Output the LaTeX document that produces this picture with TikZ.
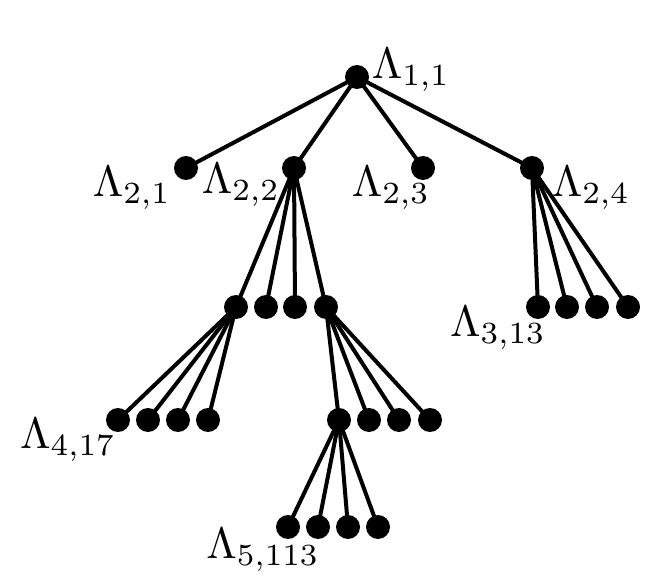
\documentclass[tikz,border=0pt]{standalone}
\newcommand{\biglab}[1]{\scalebox{4.4}{$#1$}}
\begin{document}
\begin{tikzpicture}[x=1pt,y=-1pt,
  dot/.style={circle,fill=black,inner sep=0pt,minimum size=24pt},
  lab/.style={inner sep=0pt},
  edge/.style={line width=4pt}]
\useasboundingbox (0,0) rectangle (654,588);
\node[dot] (r) at (357,77) {};
\foreach \n/\x in {a/186,b/294,c/423,d/532} \node[dot] (\n) at (\x,168) {};
\foreach \i/\x in {1/236,2/266,3/295,4/326} \node[dot] (b\i) at (\x,307) {};
\foreach \i/\x in {1/538,2/567,3/597,4/628} \node[dot] (d\i) at (\x,307) {};
\foreach \i/\x in {1/118,2/148,3/178,4/208} \node[dot] (e\i) at (\x,420) {};
\foreach \i/\x in {1/339,2/369,3/399,4/430} \node[dot] (f\i) at (\x,420) {};
\foreach \i/\x in {1/288,2/318,3/348,4/378} \node[dot] (g\i) at (\x,527) {};
\foreach \n in {a,b,c,d} \draw[edge] (r.center) -- (\n.center);
\foreach \i in {1,2,3,4} {
  \draw[edge] (b.center) -- (b\i.center);
  \draw[edge] (d.center) -- (d\i.center);
  \draw[edge] (b1.center) -- (e\i.center);
  \draw[edge] (b4.center) -- (f\i.center);
  \draw[edge] (f1.center) -- (g\i.center);
}
\node[lab] (l11) at (411,70) {\biglab{\Lambda_{1,1}}};
\node[lab] (l21) at (132,188) {\biglab{\Lambda_{2,1}}};
\node[lab] (l22) at (241,185) {\biglab{\Lambda_{2,2}}};
\node[lab] (l23) at (391,188) {\biglab{\Lambda_{2,3}}};
\node[lab] (l24) at (591,188) {\biglab{\Lambda_{2,4}}};
\node[lab] (l313) at (498,328) {\biglab{\Lambda_{3,13}}};
\node[lab] (l417) at (68,440) {\biglab{\Lambda_{4,17}}};
\node[lab] (l5) at (263,550) {\biglab{\Lambda_{5,113}}};
\end{tikzpicture}
\end{document}
